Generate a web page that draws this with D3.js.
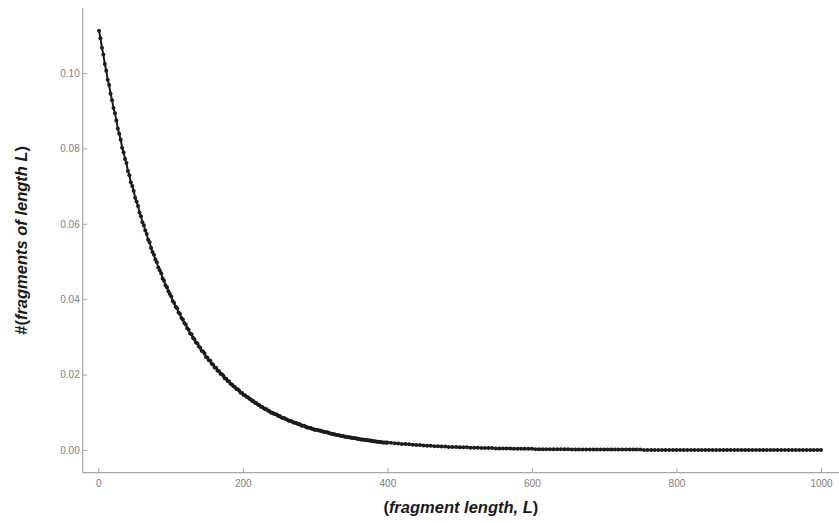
<!DOCTYPE html>
<html><head><meta charset="utf-8">
<script src="https://cdn.jsdelivr.net/npm/d3@7"></script>
<style>html,body{margin:0;padding:0;background:#fff;} svg{display:block;}</style>
</head><body>
<svg id="chart" width="839" height="523"></svg>
<script>
// ---- data ----
const xTickValues = [0, 200, 400, 600, 800, 1000];
const xMinorTickValues = [0, 50, 100, 150, 200, 250, 300, 350, 400, 450, 500, 550, 600, 650, 700, 750, 800, 850, 900, 950, 1000];
const yTickValues = [0, 0.02, 0.04, 0.06, 0.08, 0.10];
const yMinorTickValues = [-0.005, 0, 0.005, 0.01, 0.015, 0.02, 0.025, 0.03, 0.035, 0.04, 0.045, 0.05, 0.055, 0.06, 0.065, 0.07, 0.075, 0.08, 0.085, 0.09, 0.095, 0.10, 0.105, 0.11, 0.115];
const xTitle = "fragment length, L";
const yTitle = "fragments of length L";

// fragment lengths 1,3,5,...,399
const denseLengths = d3.range(1, 400, 2);
const denseFractions = [
0.1112,0.1092,0.1067,0.1049,0.1024,0.1006,0.0982,0.0968,0.0945,0.0928,
0.0907,0.0893,0.0874,0.0853,0.0839,0.0823,0.0802,0.0790,0.0772,0.0761,
0.0740,0.0729,0.0710,0.0700,0.0687,0.0669,0.0659,0.0647,0.0630,0.0620,
0.0604,0.0596,0.0582,0.0573,0.0558,0.0551,0.0536,0.0525,0.0518,0.0505,
0.0498,0.0484,0.0477,0.0469,0.0455,0.0449,0.0437,0.0432,0.0421,0.0414,
0.0407,0.0395,0.0390,0.0380,0.0376,0.0365,0.0361,0.0350,0.0346,0.0337,
0.0333,0.0323,0.0319,0.0309,0.0307,0.0298,0.0294,0.0285,0.0283,0.0275,
0.0271,0.0263,0.0261,0.0256,0.0247,0.0245,0.0238,0.0237,0.0229,0.0226,
0.0219,0.0218,0.0211,0.0209,0.0202,0.0201,0.0197,0.0190,0.0189,0.0183,
0.0182,0.0176,0.0174,0.0169,0.0167,0.0162,0.0161,0.0157,0.0152,0.0151,
0.0146,0.0145,0.0141,0.0140,0.0136,0.0134,0.0130,0.0129,0.0125,0.0124,
0.0120,0.0119,0.0115,0.0114,0.0111,0.0108,0.0108,0.0104,0.0103,0.0099,
0.0099,0.0096,0.0095,0.0094,0.0090,0.0090,0.0087,0.0085,0.0085,0.0082,
0.0081,0.0078,0.0077,0.0077,0.0074,0.0072,0.0072,0.0070,0.0068,0.0068,
0.0065,0.0064,0.0064,0.0062,0.0060,0.0059,0.0059,0.0057,0.0056,0.0054,
0.0054,0.0053,0.0052,0.0052,0.0050,0.0049,0.0048,0.0047,0.0047,0.0045,
0.0044,0.0043,0.0042,0.0042,0.0040,0.0040,0.0039,0.0038,0.0037,0.0037,
0.0035,0.0035,0.0034,0.0034,0.0033,0.0032,0.0032,0.0031,0.0031,0.0029,
0.0029,0.0028,0.0028,0.0027,0.0027,0.0026,0.0026,0.0025,0.0025,0.0024,
0.0023,0.0023,0.0022,0.0022,0.0021,0.0021,0.0020,0.0020,0.0020,0.0019
];
// fragment lengths 400,405,...,1000
const sparseLengths = d3.range(400, 1001, 5);
const sparseFractions = [
0.0020,0.0019,0.0018,0.0017,0.0016,0.0016,0.0015,0.0014,0.0013,0.0013,
0.0012,0.0011,0.0011,0.0010,0.0010,0.0009,0.0009,0.0008,0.0008,0.0008,
0.0007,0.0007,0.0007,0.0006,0.0006,0.0006,0.0005,0.0005,0.0005,0.0005,
0.0004,0.0004,0.0004,0.0004,0.0004,0.0003,0.0003,0.0003,0.0003,0.0003,
0.0003,
0.0002,0.0002,0.0002,0.0002,0.0002,0.0002,0.0002,0.0002,0.0002,0.0002,
0.0001,0.0001,0.0001,0.0001,0.0001,0.0001,0.0001,0.0001,0.0001,0.0001,
0.0001,0.0001,0.0001,0.0001,0.0001,0.0001,0.0001,0.0001,0.0001,0.0001,
0,0,0,0,0,0,0,0,0,0,
0,0,0,0,0,0,0,0,0,0,
0,0,0,0,0,0,0,0,0,0,
0,0,0,0,0,0,0,0,0,0,
0,0,0,0,0,0,0,0,0,0
];

// ---- drawing ----
const points = denseLengths.map((L, i) => ({L, v: denseFractions[i]}))
  .concat(sparseLengths.map((L, i) => ({L, v: sparseFractions[i]})));

const svg = d3.select("#chart");
const axisColor = "#a6a6a6";
const labelColor = "#808080";

const x = d3.scaleLinear().domain([0, 1000]).range([98.3, 821]);
const y = d3.scaleLinear().domain([0, 0.10]).range([450, 73]);
const xLeft = x.invert(82.7), xRight = x.invert(839);
const yBottom = y.invert(472.7), yTop = y.invert(8);

const gx = svg.append("g").attr("transform", `translate(0,${y(yBottom)})`);
gx.call(d3.axisBottom(x).tickValues(xMinorTickValues).tickSize(-2.5).tickFormat(""));
gx.call(d3.axisBottom(x).tickValues(xTickValues).tickSize(-4.5).tickPadding(7.5).tickFormat(d3.format("d")));
const gy = svg.append("g").attr("transform", `translate(${x(xLeft)},0)`);
gy.call(d3.axisLeft(y).tickValues(yMinorTickValues).tickSize(-2.5).tickFormat(""));
gy.call(d3.axisLeft(y).tickValues(yTickValues).tickSize(-4.5).tickPadding(3).tickFormat(d3.format(".2f")));

svg.selectAll(".domain").remove();
svg.selectAll(".tick line").attr("stroke", axisColor).attr("stroke-width", 1);
svg.selectAll(".tick text").attr("fill", labelColor)
  .style("font-family", "'Liberation Sans', Arial, sans-serif").style("font-size", "10px");

// axis lines
gx.append("line").attr("x1", x(xLeft)).attr("x2", x(xRight)).attr("y1", 0).attr("y2", 0)
  .attr("stroke", axisColor).attr("stroke-width", 1.2);
gy.append("line").attr("x1", 0).attr("x2", 0).attr("y1", y(yTop)).attr("y2", y(yBottom))
  .attr("stroke", axisColor).attr("stroke-width", 1.2);

// curve
const curveColor = "#1c1c1c";
svg.append("path").datum(points)
  .attr("fill", "none").attr("stroke", curveColor).attr("stroke-width", 2)
  .attr("stroke-linejoin", "round")
  .attr("d", d3.line().x(d => x(d.L)).y(d => y(d.v)));
svg.append("g").selectAll("circle").data(points).join("circle")
  .attr("cx", d => x(d.L)).attr("cy", d => y(d.v)).attr("r", 2)
  .attr("fill", curveColor);

// titles
const titleFont = "'Liberation Sans', Arial, sans-serif";
const xt = svg.append("text").attr("x", (x(xLeft) + x(xRight)) / 2).attr("y", 513)
  .attr("text-anchor", "middle").style("font-family", titleFont)
  .style("font-size", "16.5px").style("font-weight", "bold").attr("fill", "#1a1a1a");
xt.append("tspan").text("(");
xt.append("tspan").style("font-style", "italic").text(xTitle);
xt.append("tspan").text(")");

const yt = svg.append("text")
  .attr("transform", `translate(27,${(y(yTop) + y(yBottom)) / 2}) rotate(-90)`)
  .attr("text-anchor", "middle").style("font-family", titleFont)
  .style("font-size", "16.5px").style("font-weight", "bold").attr("fill", "#1a1a1a");
yt.append("tspan").text("#(");
yt.append("tspan").style("font-style", "italic").text(yTitle);
yt.append("tspan").text(")");
</script>
</body></html>
